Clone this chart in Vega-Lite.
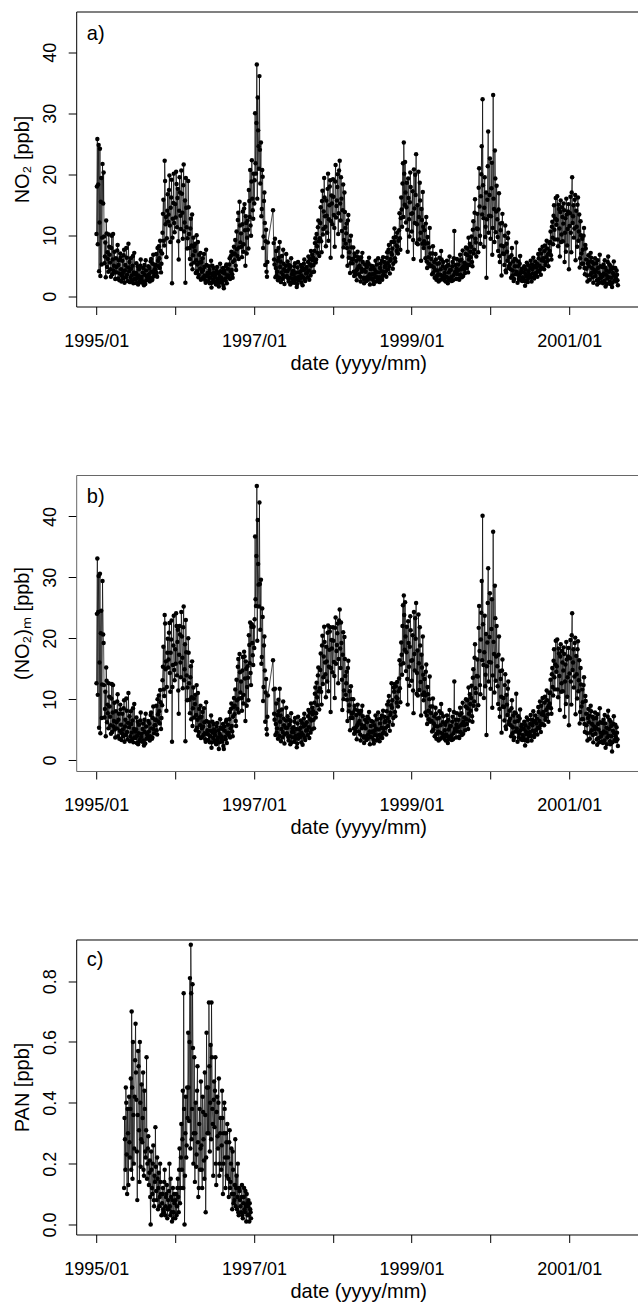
{
"$schema": "https://vega.github.io/schema/vega-lite/v6.json",
"autosize": {"type": "pad"},
"padding": {"left": 12.2, "top": 11.5, "right": 0, "bottom": 0},
"background": "white",
"spacing": 168.5,
"bounds": "flush",
"config": {
  "font": "Liberation Sans",
  "view": {"stroke": null},
  "axis": {"labelFont": "Liberation Sans", "titleFont": "Liberation Sans", "labelFontSize": 18, "titleFontSize": 20, "titleFontWeight": "normal", "labelColor": "black", "titleColor": "black", "tickColor": "black", "domainColor": "black", "tickSize": 8, "grid": false, "labelOverlap": false, "labelFlush": false}
},
"datasets": {
"no2": [
{"t":"1995-01-02","a":10.2,"b":12.6},{"t":"1995-01-06","a":25.8,"b":33.1},{"t":"1995-01-10","a":18.3,"b":24.3},{"t":"1995-01-14","a":4.1,"b":5.3},{"t":"1995-01-18","a":24.2,"b":30.6},{"t":"1995-01-22","a":15.5,"b":20.8},{"t":"1995-01-26","a":5.2,"b":6.9},{"t":"1995-01-30","a":21.7,"b":29.4},
{"t":"1995-02-02","a":15.2,"b":20.6},{"t":"1995-02-06","a":9.8,"b":12.3},{"t":"1995-02-10","a":6.5,"b":8.4},{"t":"1995-02-14","a":3.1,"b":3.9},{"t":"1995-02-18","a":10.3,"b":13.0},{"t":"1995-02-22","a":7.2,"b":9.1},{"t":"1995-02-26","a":4.0,"b":5.2},
{"t":"1995-03-02","a":8.1,"b":10.4},{"t":"1995-03-06","a":5.5,"b":7.1},{"t":"1995-03-10","a":3.2,"b":4.3},{"t":"1995-03-14","a":9.9,"b":12.5},{"t":"1995-03-18","a":6.0,"b":7.8},{"t":"1995-03-22","a":4.2,"b":5.5},{"t":"1995-03-26","a":7.3,"b":9.4},{"t":"1995-03-30","a":2.8,"b":3.7},
{"t":"1995-04-02","a":6.2,"b":8.0},{"t":"1995-04-06","a":3.9,"b":5.2},{"t":"1995-04-10","a":8.4,"b":10.8},{"t":"1995-04-14","a":5.1,"b":6.6},{"t":"1995-04-18","a":2.6,"b":3.5},{"t":"1995-04-22","a":7.0,"b":9.1},{"t":"1995-04-26","a":4.4,"b":5.8},{"t":"1995-04-30","a":3.3,"b":4.4},
{"t":"1995-05-02","a":5.8,"b":7.6},{"t":"1995-05-06","a":2.9,"b":3.9},{"t":"1995-05-10","a":7.6,"b":9.8},{"t":"1995-05-14","a":4.2,"b":5.5},{"t":"1995-05-18","a":3.1,"b":4.1},{"t":"1995-05-22","a":6.3,"b":8.1},{"t":"1995-05-26","a":2.5,"b":3.4},{"t":"1995-05-30","a":8.6,"b":11.0},
{"t":"1995-06-02","a":4.1,"b":5.4},{"t":"1995-06-06","a":2.3,"b":3.1},{"t":"1995-06-10","a":6.2,"b":8.0},{"t":"1995-06-14","a":3.4,"b":4.5},{"t":"1995-06-18","a":5.0,"b":6.5},{"t":"1995-06-22","a":2.1,"b":2.9},{"t":"1995-06-26","a":7.1,"b":9.2},{"t":"1995-06-30","a":3.6,"b":4.7},
{"t":"1995-07-02","a":2.7,"b":3.6},{"t":"1995-07-06","a":5.4,"b":7.0},{"t":"1995-07-10","a":3.0,"b":4.0},{"t":"1995-07-14","a":1.9,"b":2.6},{"t":"1995-07-18","a":4.4,"b":5.8},{"t":"1995-07-22","a":2.5,"b":3.3},{"t":"1995-07-26","a":6.0,"b":7.8},{"t":"1995-07-30","a":3.2,"b":4.3},
{"t":"1995-08-02","a":2.2,"b":3.0},{"t":"1995-08-06","a":4.6,"b":6.0},{"t":"1995-08-10","a":1.8,"b":2.4},{"t":"1995-08-14","a":3.5,"b":4.6},{"t":"1995-08-18","a":5.9,"b":7.6},{"t":"1995-08-22","a":2.6,"b":3.5},{"t":"1995-08-26","a":3.1,"b":4.1},{"t":"1995-08-30","a":4.9,"b":6.4},
{"t":"1995-09-02","a":3.6,"b":4.7},{"t":"1995-09-06","a":2.4,"b":3.2},{"t":"1995-09-10","a":5.7,"b":7.4},{"t":"1995-09-14","a":4.0,"b":5.2},{"t":"1995-09-18","a":2.8,"b":3.7},{"t":"1995-09-22","a":6.8,"b":8.8},{"t":"1995-09-26","a":3.3,"b":4.4},{"t":"1995-09-30","a":5.1,"b":6.6},
{"t":"1995-10-02","a":4.4,"b":5.7},{"t":"1995-10-06","a":6.9,"b":8.9},{"t":"1995-10-10","a":3.2,"b":4.2},{"t":"1995-10-14","a":5.8,"b":7.5},{"t":"1995-10-18","a":8.2,"b":10.6},{"t":"1995-10-22","a":4.6,"b":6.0},{"t":"1995-10-26","a":7.4,"b":9.5},{"t":"1995-10-30","a":5.3,"b":6.9},
{"t":"1995-11-02","a":7.0,"b":9.0},{"t":"1995-11-06","a":13.5,"b":15.3},{"t":"1995-11-10","a":9.1,"b":11.6},{"t":"1995-11-14","a":22.2,"b":23.8},{"t":"1995-11-18","a":11.8,"b":14.9},{"t":"1995-11-22","a":6.4,"b":8.1},{"t":"1995-11-26","a":14.0,"b":17.6},{"t":"1995-11-30","a":12.2,"b":15.2},
{"t":"1995-12-02","a":13.4,"b":16.5},{"t":"1995-12-06","a":19.8,"b":22.5},{"t":"1995-12-10","a":8.9,"b":11.2},{"t":"1995-12-14","a":16.2,"b":19.8},{"t":"1995-12-18","a":2.1,"b":3.0},{"t":"1995-12-22","a":12.7,"b":15.6},{"t":"1995-12-26","a":20.1,"b":23.7},{"t":"1995-12-30","a":10.5,"b":13.1},
{"t":"1996-01-02","a":15.1,"b":18.2},{"t":"1996-01-06","a":20.4,"b":24.1},{"t":"1996-01-10","a":11.3,"b":13.9},{"t":"1996-01-14","a":17.6,"b":21.4},{"t":"1996-01-18","a":6.0,"b":7.6},{"t":"1996-01-22","a":19.5,"b":22.0},{"t":"1996-01-26","a":13.2,"b":16.0},{"t":"1996-01-30","a":20.6,"b":24.3},
{"t":"1996-02-02","a":16.8,"b":20.3},{"t":"1996-02-06","a":9.4,"b":11.8},{"t":"1996-02-10","a":21.6,"b":25.2},{"t":"1996-02-14","a":12.1,"b":14.9},{"t":"1996-02-18","a":2.2,"b":3.1},{"t":"1996-02-22","a":14.5,"b":17.7},{"t":"1996-02-26","a":7.8,"b":9.8},
{"t":"1996-03-02","a":18.9,"b":20.0},{"t":"1996-03-06","a":10.2,"b":12.6},{"t":"1996-03-10","a":6.1,"b":7.7},{"t":"1996-03-14","a":12.7,"b":15.4},{"t":"1996-03-18","a":8.3,"b":10.3},{"t":"1996-03-22","a":4.4,"b":5.6},{"t":"1996-03-26","a":9.6,"b":11.9},{"t":"1996-03-30","a":5.5,"b":7.0},
{"t":"1996-04-02","a":7.4,"b":9.2},{"t":"1996-04-06","a":3.8,"b":4.9},{"t":"1996-04-10","a":10.0,"b":12.3},{"t":"1996-04-14","a":5.2,"b":6.6},{"t":"1996-04-18","a":3.1,"b":4.0},{"t":"1996-04-22","a":6.8,"b":8.4},{"t":"1996-04-26","a":4.5,"b":5.7},{"t":"1996-04-30","a":2.7,"b":3.6},
{"t":"1996-05-02","a":5.6,"b":7.1},{"t":"1996-05-06","a":2.9,"b":3.8},{"t":"1996-05-10","a":4.3,"b":5.5},{"t":"1996-05-14","a":6.9,"b":8.5},{"t":"1996-05-18","a":3.4,"b":4.4},{"t":"1996-05-22","a":2.2,"b":3.0},{"t":"1996-05-26","a":5.1,"b":6.4},{"t":"1996-05-30","a":3.8,"b":4.9},
{"t":"1996-06-02","a":3.2,"b":4.2},{"t":"1996-06-06","a":4.9,"b":6.2},{"t":"1996-06-10","a":2.1,"b":2.9},{"t":"1996-06-14","a":3.7,"b":4.8},{"t":"1996-06-18","a":1.4,"b":2.0},{"t":"1996-06-22","a":5.0,"b":6.3},{"t":"1996-06-26","a":2.7,"b":3.6},{"t":"1996-06-30","a":3.9,"b":5.0},
{"t":"1996-07-02","a":2.4,"b":3.2},{"t":"1996-07-06","a":3.6,"b":4.7},{"t":"1996-07-10","a":1.9,"b":2.6},{"t":"1996-07-14","a":4.8,"b":6.1},{"t":"1996-07-18","a":2.8,"b":3.7},{"t":"1996-07-22","a":1.6,"b":1.8},{"t":"1996-07-26","a":3.3,"b":4.3},{"t":"1996-07-30","a":4.1,"b":5.3},
{"t":"1996-08-02","a":3.0,"b":3.9},{"t":"1996-08-06","a":2.2,"b":3.0},{"t":"1996-08-10","a":4.6,"b":5.9},{"t":"1996-08-14","a":1.3,"b":1.8},{"t":"1996-08-18","a":3.7,"b":4.8},{"t":"1996-08-22","a":2.6,"b":3.4},{"t":"1996-08-26","a":5.2,"b":6.6},{"t":"1996-08-30","a":3.4,"b":4.4},
{"t":"1996-09-02","a":4.5,"b":5.8},{"t":"1996-09-06","a":3.1,"b":4.1},{"t":"1996-09-10","a":6.2,"b":7.9},{"t":"1996-09-14","a":4.0,"b":5.2},{"t":"1996-09-18","a":7.3,"b":9.3},{"t":"1996-09-22","a":3.6,"b":4.7},{"t":"1996-09-26","a":5.6,"b":7.1},{"t":"1996-09-30","a":8.1,"b":10.2},
{"t":"1996-10-02","a":5.9,"b":7.5},{"t":"1996-10-06","a":9.2,"b":11.6},{"t":"1996-10-10","a":4.3,"b":5.6},{"t":"1996-10-14","a":7.7,"b":9.8},{"t":"1996-10-18","a":12.5,"b":15.3},{"t":"1996-10-22","a":6.1,"b":7.8},{"t":"1996-10-26","a":15.5,"b":17.4},{"t":"1996-10-30","a":8.8,"b":11.1},
{"t":"1996-11-02","a":10.3,"b":12.9},{"t":"1996-11-06","a":6.4,"b":8.1},{"t":"1996-11-10","a":13.9,"b":16.9},{"t":"1996-11-14","a":8.5,"b":10.7},{"t":"1996-11-18","a":15.1,"b":17.0},{"t":"1996-11-22","a":5.0,"b":6.4},{"t":"1996-11-26","a":12.0,"b":15.0},{"t":"1996-11-30","a":9.6,"b":12.0},
{"t":"1996-12-02","a":12.4,"b":15.4},{"t":"1996-12-06","a":7.8,"b":9.8},{"t":"1996-12-10","a":15.6,"b":18.9},{"t":"1996-12-14","a":20.7,"b":22.6},{"t":"1996-12-18","a":9.9,"b":12.3},{"t":"1996-12-22","a":22.3,"b":22.3},{"t":"1996-12-26","a":14.1,"b":17.2},{"t":"1996-12-30","a":20.1,"b":21.9},
{"t":"1997-01-02","a":15.2,"b":18.4},{"t":"1997-01-06","a":30.0,"b":36.7},{"t":"1997-01-10","a":20.1,"b":25.3},{"t":"1997-01-14","a":38.0,"b":45.0},{"t":"1997-01-18","a":32.6,"b":39.4},{"t":"1997-01-22","a":24.6,"b":28.8},{"t":"1997-01-26","a":36.1,"b":42.3},{"t":"1997-01-30","a":18.5,"b":21.4},
{"t":"1997-02-02","a":25.2,"b":29.6},{"t":"1997-02-06","a":14.3,"b":16.9},{"t":"1997-02-10","a":19.6,"b":23.5},{"t":"1997-02-14","a":9.8,"b":12.0},{"t":"1997-02-18","a":17.0,"b":20.3},{"t":"1997-02-22","a":5.1,"b":6.3},{"t":"1997-02-26","a":10.9,"b":13.3},
{"t":"1997-03-02","a":3.2,"b":4.2},{"t":"1997-03-06","a":8.8,"b":10.6},{"t":"1997-03-30","a":14.1,"b":16.4},
{"t":"1997-04-02","a":8.7,"b":11.6},{"t":"1997-04-06","a":5.2,"b":6.6},{"t":"1997-04-10","a":3.1,"b":4.1},{"t":"1997-04-14","a":7.4,"b":9.3},{"t":"1997-04-18","a":4.0,"b":5.2},{"t":"1997-04-22","a":2.6,"b":3.5},{"t":"1997-04-26","a":6.3,"b":8.0},{"t":"1997-04-30","a":8.9,"b":11.7},
{"t":"1997-05-02","a":4.8,"b":6.3},{"t":"1997-05-06","a":2.3,"b":3.1},{"t":"1997-05-10","a":6.6,"b":8.3},{"t":"1997-05-14","a":3.5,"b":4.6},{"t":"1997-05-18","a":5.3,"b":6.8},{"t":"1997-05-22","a":2.0,"b":2.7},{"t":"1997-05-26","a":4.1,"b":5.3},{"t":"1997-05-30","a":6.9,"b":8.6},
{"t":"1997-06-02","a":3.3,"b":4.4},{"t":"1997-06-06","a":5.7,"b":7.2},{"t":"1997-06-10","a":2.4,"b":3.2},{"t":"1997-06-14","a":4.5,"b":5.8},{"t":"1997-06-18","a":1.9,"b":2.6},{"t":"1997-06-22","a":6.2,"b":7.7},{"t":"1997-06-26","a":3.6,"b":4.6},{"t":"1997-06-30","a":2.8,"b":3.7},
{"t":"1997-07-02","a":4.2,"b":5.4},{"t":"1997-07-06","a":2.2,"b":3.0},{"t":"1997-07-10","a":5.4,"b":6.9},{"t":"1997-07-14","a":3.0,"b":4.0},{"t":"1997-07-18","a":1.5,"b":2.1},{"t":"1997-07-22","a":4.7,"b":6.0},{"t":"1997-07-26","a":2.6,"b":3.5},{"t":"1997-07-30","a":3.9,"b":5.0},
{"t":"1997-08-02","a":2.9,"b":3.8},{"t":"1997-08-06","a":5.1,"b":6.5},{"t":"1997-08-10","a":3.4,"b":4.5},{"t":"1997-08-14","a":1.8,"b":2.5},{"t":"1997-08-18","a":4.3,"b":5.5},{"t":"1997-08-22","a":6.0,"b":7.6},{"t":"1997-08-26","a":2.5,"b":3.3},{"t":"1997-08-30","a":3.7,"b":4.8},
{"t":"1997-09-02","a":4.8,"b":6.2},{"t":"1997-09-06","a":3.1,"b":4.1},{"t":"1997-09-10","a":6.5,"b":8.2},{"t":"1997-09-14","a":2.7,"b":3.6},{"t":"1997-09-18","a":5.2,"b":6.7},{"t":"1997-09-22","a":7.4,"b":9.3},{"t":"1997-09-26","a":3.9,"b":5.0},{"t":"1997-09-30","a":5.9,"b":7.5},
{"t":"1997-10-02","a":6.3,"b":8.0},{"t":"1997-10-06","a":4.0,"b":5.2},{"t":"1997-10-10","a":8.7,"b":10.9},{"t":"1997-10-14","a":5.5,"b":7.0},{"t":"1997-10-18","a":10.2,"b":12.7},{"t":"1997-10-22","a":7.1,"b":9.0},{"t":"1997-10-26","a":12.4,"b":15.2},{"t":"1997-10-30","a":6.6,"b":8.3},
{"t":"1997-11-02","a":9.5,"b":11.8},{"t":"1997-11-06","a":14.6,"b":17.5},{"t":"1997-11-10","a":7.2,"b":9.1},{"t":"1997-11-14","a":17.3,"b":20.4},{"t":"1997-11-18","a":11.0,"b":13.6},{"t":"1997-11-22","a":19.4,"b":21.9},{"t":"1997-11-26","a":13.1,"b":16.0},{"t":"1997-11-30","a":8.2,"b":10.3},
{"t":"1997-12-02","a":15.7,"b":18.6},{"t":"1997-12-06","a":10.4,"b":12.9},{"t":"1997-12-10","a":20.1,"b":22.1},{"t":"1997-12-14","a":12.6,"b":15.3},{"t":"1997-12-18","a":18.0,"b":21.1},{"t":"1997-12-22","a":6.3,"b":7.9},{"t":"1997-12-26","a":16.5,"b":19.7},{"t":"1997-12-30","a":11.8,"b":14.4},
{"t":"1998-01-02","a":19.2,"b":21.8},{"t":"1998-01-06","a":13.3,"b":16.1},{"t":"1998-01-10","a":8.1,"b":10.2},{"t":"1998-01-14","a":21.5,"b":23.4},{"t":"1998-01-18","a":14.8,"b":17.9},{"t":"1998-01-22","a":17.9,"b":20.8},{"t":"1998-01-26","a":10.2,"b":12.6},{"t":"1998-01-30","a":20.6,"b":22.9},
{"t":"1998-02-02","a":22.2,"b":24.7},{"t":"1998-02-06","a":12.4,"b":15.1},{"t":"1998-02-10","a":16.0,"b":19.2},{"t":"1998-02-14","a":6.5,"b":8.2},{"t":"1998-02-18","a":18.3,"b":21.0},{"t":"1998-02-22","a":9.2,"b":11.4},{"t":"1998-02-26","a":13.8,"b":16.6},
{"t":"1998-03-02","a":8.6,"b":10.7},{"t":"1998-03-06","a":11.9,"b":14.5},{"t":"1998-03-10","a":5.0,"b":6.4},{"t":"1998-03-14","a":13.3,"b":16.3},{"t":"1998-03-18","a":7.2,"b":9.0},{"t":"1998-03-22","a":3.8,"b":4.9},{"t":"1998-03-26","a":9.9,"b":12.1},{"t":"1998-03-30","a":6.1,"b":7.6},
{"t":"1998-04-02","a":5.4,"b":6.9},{"t":"1998-04-06","a":8.0,"b":10.0},{"t":"1998-04-10","a":3.3,"b":4.3},{"t":"1998-04-14","a":6.6,"b":8.3},{"t":"1998-04-18","a":4.1,"b":5.3},{"t":"1998-04-22","a":2.6,"b":3.4},{"t":"1998-04-26","a":7.3,"b":9.1},{"t":"1998-04-30","a":4.8,"b":6.1},
{"t":"1998-05-02","a":3.6,"b":4.7},{"t":"1998-05-06","a":6.0,"b":7.6},{"t":"1998-05-10","a":2.4,"b":3.2},{"t":"1998-05-14","a":4.5,"b":5.8},{"t":"1998-05-18","a":7.1,"b":8.9},{"t":"1998-05-22","a":3.0,"b":3.9},{"t":"1998-05-26","a":2.1,"b":2.8},{"t":"1998-05-30","a":5.2,"b":6.6},
{"t":"1998-06-02","a":4.0,"b":5.2},{"t":"1998-06-06","a":2.5,"b":3.3},{"t":"1998-06-10","a":5.6,"b":7.1},{"t":"1998-06-14","a":3.2,"b":4.2},{"t":"1998-06-18","a":6.3,"b":7.9},{"t":"1998-06-22","a":1.9,"b":2.6},{"t":"1998-06-26","a":4.4,"b":5.6},{"t":"1998-06-30","a":3.5,"b":4.5},
{"t":"1998-07-02","a":2.8,"b":3.7},{"t":"1998-07-06","a":4.9,"b":6.3},{"t":"1998-07-10","a":2.0,"b":2.7},{"t":"1998-07-14","a":3.7,"b":4.8},{"t":"1998-07-18","a":5.8,"b":7.3},{"t":"1998-07-22","a":2.4,"b":3.2},{"t":"1998-07-26","a":3.1,"b":4.0},{"t":"1998-07-30","a":6.2,"b":7.8},
{"t":"1998-08-02","a":3.9,"b":5.0},{"t":"1998-08-06","a":2.3,"b":3.1},{"t":"1998-08-10","a":5.3,"b":6.8},{"t":"1998-08-14","a":4.1,"b":5.3},{"t":"1998-08-18","a":2.7,"b":3.6},{"t":"1998-08-22","a":6.4,"b":8.1},{"t":"1998-08-26","a":3.5,"b":4.6},{"t":"1998-08-30","a":4.8,"b":6.2},
{"t":"1998-09-02","a":5.0,"b":6.4},{"t":"1998-09-06","a":3.2,"b":4.2},{"t":"1998-09-10","a":7.2,"b":9.1},{"t":"1998-09-14","a":4.4,"b":5.6},{"t":"1998-09-18","a":8.4,"b":10.5},{"t":"1998-09-22","a":3.7,"b":4.8},{"t":"1998-09-26","a":6.1,"b":7.8},{"t":"1998-09-30","a":8.9,"b":12.6},
{"t":"1998-10-02","a":6.8,"b":8.6},{"t":"1998-10-06","a":4.5,"b":5.8},{"t":"1998-10-10","a":9.6,"b":11.9},{"t":"1998-10-14","a":11.1,"b":12.5},{"t":"1998-10-18","a":5.7,"b":7.2},{"t":"1998-10-22","a":8.3,"b":10.3},{"t":"1998-10-26","a":10.4,"b":12.8},{"t":"1998-10-30","a":7.0,"b":8.8},
{"t":"1998-11-02","a":9.1,"b":11.3},{"t":"1998-11-06","a":13.6,"b":16.4},{"t":"1998-11-10","a":7.6,"b":9.5},{"t":"1998-11-14","a":16.2,"b":19.3},{"t":"1998-11-18","a":11.4,"b":14.0},{"t":"1998-11-22","a":21.8,"b":25.4},{"t":"1998-11-26","a":25.2,"b":27.0},{"t":"1998-11-30","a":15.0,"b":18.1},
{"t":"1998-12-02","a":22.0,"b":25.9},{"t":"1998-12-06","a":12.1,"b":14.6},{"t":"1998-12-10","a":18.6,"b":21.9},{"t":"1998-12-14","a":7.3,"b":9.1},{"t":"1998-12-18","a":16.1,"b":19.2},{"t":"1998-12-22","a":9.8,"b":12.2},{"t":"1998-12-26","a":20.3,"b":23.6},{"t":"1998-12-30","a":13.5,"b":16.3},
{"t":"1999-01-02","a":10.6,"b":13.0},{"t":"1999-01-06","a":17.2,"b":20.5},{"t":"1999-01-10","a":6.1,"b":7.7},{"t":"1999-01-14","a":14.4,"b":17.4},{"t":"1999-01-18","a":19.9,"b":23.3},{"t":"1999-01-22","a":23.3,"b":25.8},{"t":"1999-01-26","a":11.8,"b":14.3},{"t":"1999-01-30","a":8.5,"b":10.6},
{"t":"1999-02-02","a":20.4,"b":23.9},{"t":"1999-02-06","a":9.3,"b":11.5},{"t":"1999-02-10","a":15.7,"b":18.8},{"t":"1999-02-14","a":5.8,"b":7.3},{"t":"1999-02-18","a":12.5,"b":15.2},{"t":"1999-02-22","a":17.1,"b":20.3},{"t":"1999-02-26","a":7.9,"b":9.8},
{"t":"1999-03-02","a":10.8,"b":13.3},{"t":"1999-03-06","a":6.2,"b":7.8},{"t":"1999-03-10","a":13.0,"b":15.7},{"t":"1999-03-14","a":4.6,"b":5.9},{"t":"1999-03-18","a":8.7,"b":10.8},{"t":"1999-03-22","a":5.3,"b":6.7},{"t":"1999-03-26","a":11.2,"b":13.7},{"t":"1999-03-30","a":7.0,"b":8.8},
{"t":"1999-04-02","a":6.1,"b":7.7},{"t":"1999-04-06","a":3.6,"b":4.7},{"t":"1999-04-10","a":8.2,"b":10.1},{"t":"1999-04-14","a":4.7,"b":6.0},{"t":"1999-04-18","a":3.0,"b":3.9},{"t":"1999-04-22","a":6.9,"b":8.6},{"t":"1999-04-26","a":2.7,"b":3.5},{"t":"1999-04-30","a":5.3,"b":6.8},
{"t":"1999-05-02","a":4.2,"b":5.5},{"t":"1999-05-06","a":2.4,"b":3.2},{"t":"1999-05-10","a":6.3,"b":8.0},{"t":"1999-05-14","a":3.5,"b":4.5},{"t":"1999-05-18","a":7.4,"b":9.2},{"t":"1999-05-22","a":2.8,"b":3.7},{"t":"1999-05-26","a":4.9,"b":6.2},{"t":"1999-05-30","a":3.1,"b":4.0},
{"t":"1999-06-02","a":2.6,"b":3.5},{"t":"1999-06-06","a":4.5,"b":5.8},{"t":"1999-06-10","a":3.2,"b":4.2},{"t":"1999-06-14","a":5.8,"b":7.3},{"t":"1999-06-18","a":2.1,"b":2.8},{"t":"1999-06-22","a":3.9,"b":5.0},{"t":"1999-06-26","a":6.5,"b":8.2},{"t":"1999-06-30","a":2.9,"b":3.8},
{"t":"1999-07-02","a":4.3,"b":5.6},{"t":"1999-07-06","a":2.5,"b":3.3},{"t":"1999-07-10","a":5.6,"b":7.1},{"t":"1999-07-14","a":3.4,"b":4.4},{"t":"1999-07-18","a":10.7,"b":12.9},{"t":"1999-07-22","a":4.0,"b":5.2},{"t":"1999-07-26","a":2.8,"b":3.7},{"t":"1999-07-30","a":6.1,"b":7.7},
{"t":"1999-08-02","a":3.6,"b":4.7},{"t":"1999-08-06","a":5.2,"b":6.6},{"t":"1999-08-10","a":2.7,"b":3.6},{"t":"1999-08-14","a":6.8,"b":8.6},{"t":"1999-08-18","a":4.4,"b":5.7},{"t":"1999-08-22","a":3.1,"b":4.1},{"t":"1999-08-26","a":7.5,"b":9.4},{"t":"1999-08-30","a":4.9,"b":6.3},
{"t":"1999-09-02","a":5.5,"b":7.0},{"t":"1999-09-06","a":3.8,"b":4.9},{"t":"1999-09-10","a":8.0,"b":10.0},{"t":"1999-09-14","a":4.6,"b":5.9},{"t":"1999-09-18","a":6.7,"b":8.5},{"t":"1999-09-22","a":9.6,"b":11.9},{"t":"1999-09-26","a":5.1,"b":6.5},{"t":"1999-09-30","a":7.3,"b":9.2},
{"t":"1999-10-02","a":6.4,"b":8.1},{"t":"1999-10-06","a":9.8,"b":12.2},{"t":"1999-10-10","a":4.9,"b":6.3},{"t":"1999-10-14","a":12.3,"b":14.9},{"t":"1999-10-18","a":7.6,"b":9.6},{"t":"1999-10-22","a":15.9,"b":19.0},{"t":"1999-10-26","a":8.8,"b":11.0},{"t":"1999-10-30","a":11.1,"b":13.8},
{"t":"1999-11-02","a":13.5,"b":16.5},{"t":"1999-11-06","a":7.2,"b":9.0},{"t":"1999-11-10","a":21.0,"b":25.3},{"t":"1999-11-14","a":9.9,"b":12.3},{"t":"1999-11-18","a":16.4,"b":19.8},{"t":"1999-11-22","a":24.6,"b":29.4},{"t":"1999-11-26","a":32.3,"b":40.1},{"t":"1999-11-30","a":12.8,"b":15.6},
{"t":"1999-12-02","a":8.1,"b":10.2},{"t":"1999-12-06","a":19.5,"b":23.7},{"t":"1999-12-10","a":11.4,"b":14.0},{"t":"1999-12-14","a":3.0,"b":4.1},{"t":"1999-12-18","a":15.8,"b":19.3},{"t":"1999-12-22","a":27.0,"b":31.5},{"t":"1999-12-26","a":13.2,"b":16.1},{"t":"1999-12-30","a":22.6,"b":27.4},
{"t":"2000-01-02","a":9.4,"b":11.7},{"t":"2000-01-06","a":17.7,"b":21.5},{"t":"2000-01-10","a":6.8,"b":8.6},{"t":"2000-01-14","a":33.0,"b":37.5},{"t":"2000-01-18","a":14.3,"b":17.4},{"t":"2000-01-22","a":23.9,"b":28.6},{"t":"2000-01-26","a":10.5,"b":13.0},{"t":"2000-01-30","a":18.1,"b":22.0},
{"t":"2000-02-02","a":12.6,"b":15.4},{"t":"2000-02-06","a":7.4,"b":9.2},{"t":"2000-02-10","a":16.9,"b":20.3},{"t":"2000-02-14","a":5.6,"b":7.1},{"t":"2000-02-18","a":10.8,"b":13.3},{"t":"2000-02-22","a":3.4,"b":4.5},{"t":"2000-02-26","a":13.5,"b":16.5},
{"t":"2000-03-02","a":8.2,"b":10.2},{"t":"2000-03-06","a":5.1,"b":6.5},{"t":"2000-03-10","a":11.6,"b":14.1},{"t":"2000-03-14","a":3.9,"b":5.1},{"t":"2000-03-18","a":7.3,"b":9.1},{"t":"2000-03-22","a":9.5,"b":11.7},{"t":"2000-03-26","a":4.6,"b":5.9},{"t":"2000-03-30","a":6.4,"b":8.1},
{"t":"2000-04-02","a":5.3,"b":6.8},{"t":"2000-04-06","a":3.0,"b":3.9},{"t":"2000-04-10","a":7.9,"b":9.8},{"t":"2000-04-14","a":4.2,"b":5.4},{"t":"2000-04-18","a":2.5,"b":3.3},{"t":"2000-04-22","a":6.1,"b":7.8},{"t":"2000-04-26","a":3.6,"b":4.7},{"t":"2000-04-30","a":8.8,"b":10.9},
{"t":"2000-05-02","a":4.0,"b":5.2},{"t":"2000-05-06","a":2.2,"b":3.0},{"t":"2000-05-10","a":5.7,"b":7.2},{"t":"2000-05-14","a":3.3,"b":4.3},{"t":"2000-05-18","a":6.6,"b":8.3},{"t":"2000-05-22","a":2.6,"b":3.4},{"t":"2000-05-26","a":4.5,"b":5.8},{"t":"2000-05-30","a":3.1,"b":4.1},
{"t":"2000-06-02","a":2.8,"b":3.7},{"t":"2000-06-06","a":4.9,"b":6.3},{"t":"2000-06-10","a":1.7,"b":2.4},{"t":"2000-06-14","a":3.6,"b":4.7},{"t":"2000-06-18","a":5.5,"b":7.0},{"t":"2000-06-22","a":2.3,"b":3.1},{"t":"2000-06-26","a":4.1,"b":5.3},{"t":"2000-06-30","a":3.0,"b":3.9},
{"t":"2000-07-02","a":3.5,"b":4.6},{"t":"2000-07-06","a":5.8,"b":7.4},{"t":"2000-07-10","a":2.4,"b":3.2},{"t":"2000-07-14","a":4.4,"b":5.7},{"t":"2000-07-18","a":6.3,"b":8.0},{"t":"2000-07-22","a":2.9,"b":3.8},{"t":"2000-07-26","a":5.0,"b":6.4},{"t":"2000-07-30","a":3.8,"b":4.9},
{"t":"2000-08-02","a":4.7,"b":6.0},{"t":"2000-08-06","a":3.2,"b":4.2},{"t":"2000-08-10","a":6.9,"b":8.7},{"t":"2000-08-14","a":4.0,"b":5.2},{"t":"2000-08-18","a":7.6,"b":9.6},{"t":"2000-08-22","a":3.5,"b":4.6},{"t":"2000-08-26","a":5.9,"b":7.5},{"t":"2000-08-30","a":8.1,"b":10.2},
{"t":"2000-09-02","a":6.2,"b":7.9},{"t":"2000-09-06","a":4.4,"b":5.7},{"t":"2000-09-10","a":8.3,"b":10.4},{"t":"2000-09-14","a":5.5,"b":7.0},{"t":"2000-09-18","a":9.1,"b":11.4},{"t":"2000-09-22","a":6.8,"b":8.6},{"t":"2000-09-26","a":4.9,"b":6.3},{"t":"2000-09-30","a":8.7,"b":11.0},
{"t":"2000-10-02","a":7.4,"b":9.3},{"t":"2000-10-06","a":10.6,"b":13.2},{"t":"2000-10-10","a":6.0,"b":7.6},{"t":"2000-10-14","a":12.2,"b":15.1},{"t":"2000-10-18","a":8.5,"b":10.6},{"t":"2000-10-22","a":14.9,"b":18.2},{"t":"2000-10-26","a":9.3,"b":11.6},{"t":"2000-10-30","a":16.1,"b":19.6},
{"t":"2000-11-02","a":11.7,"b":14.5},{"t":"2000-11-06","a":16.4,"b":19.8},{"t":"2000-11-10","a":8.2,"b":10.3},{"t":"2000-11-14","a":14.3,"b":17.5},{"t":"2000-11-18","a":6.5,"b":8.2},{"t":"2000-11-22","a":15.7,"b":19.0},{"t":"2000-11-26","a":10.1,"b":12.6},{"t":"2000-11-30","a":13.0,"b":16.0},
{"t":"2000-12-02","a":9.0,"b":11.3},{"t":"2000-12-06","a":15.2,"b":18.5},{"t":"2000-12-10","a":5.6,"b":7.1},{"t":"2000-12-14","a":12.8,"b":15.7},{"t":"2000-12-18","a":16.0,"b":19.4},{"t":"2000-12-22","a":8.3,"b":10.4},{"t":"2000-12-26","a":13.9,"b":17.0},{"t":"2000-12-30","a":4.4,"b":5.7},
{"t":"2001-01-02","a":11.5,"b":14.2},{"t":"2001-01-06","a":16.3,"b":19.7},{"t":"2001-01-10","a":7.2,"b":9.1},{"t":"2001-01-14","a":19.5,"b":24.1},{"t":"2001-01-18","a":13.1,"b":16.0},{"t":"2001-01-22","a":9.6,"b":11.9},{"t":"2001-01-26","a":15.8,"b":19.2},{"t":"2001-01-30","a":5.9,"b":7.5},
{"t":"2001-02-02","a":14.0,"b":17.1},{"t":"2001-02-06","a":8.1,"b":10.1},{"t":"2001-02-10","a":16.2,"b":19.5},{"t":"2001-02-14","a":10.6,"b":13.1},{"t":"2001-02-18","a":4.7,"b":6.0},{"t":"2001-02-22","a":12.3,"b":15.1},{"t":"2001-02-26","a":7.0,"b":8.8},
{"t":"2001-03-02","a":9.4,"b":11.6},{"t":"2001-03-06","a":5.3,"b":6.7},{"t":"2001-03-10","a":11.2,"b":13.6},{"t":"2001-03-14","a":3.6,"b":4.6},{"t":"2001-03-18","a":7.8,"b":9.7},{"t":"2001-03-22","a":4.5,"b":5.7},{"t":"2001-03-26","a":2.4,"b":3.2},{"t":"2001-03-30","a":6.7,"b":8.4},
{"t":"2001-04-02","a":4.9,"b":6.2},{"t":"2001-04-06","a":2.7,"b":3.5},{"t":"2001-04-10","a":7.1,"b":8.9},{"t":"2001-04-14","a":3.8,"b":4.9},{"t":"2001-04-18","a":5.6,"b":7.1},{"t":"2001-04-22","a":2.2,"b":2.9},{"t":"2001-04-26","a":4.3,"b":5.5},{"t":"2001-04-30","a":6.2,"b":7.8},
{"t":"2001-05-02","a":3.3,"b":4.3},{"t":"2001-05-06","a":5.4,"b":6.9},{"t":"2001-05-10","a":1.9,"b":2.5},{"t":"2001-05-14","a":4.6,"b":5.9},{"t":"2001-05-18","a":2.8,"b":3.6},{"t":"2001-05-22","a":6.8,"b":8.5},{"t":"2001-05-26","a":3.5,"b":4.5},{"t":"2001-05-30","a":2.3,"b":3.0},
{"t":"2001-06-02","a":4.8,"b":6.1},{"t":"2001-06-06","a":2.1,"b":2.8},{"t":"2001-06-10","a":3.7,"b":4.7},{"t":"2001-06-14","a":5.9,"b":7.4},{"t":"2001-06-18","a":1.6,"b":2.0},{"t":"2001-06-22","a":4.2,"b":5.3},{"t":"2001-06-26","a":2.9,"b":3.7},{"t":"2001-06-30","a":6.5,"b":8.1},
{"t":"2001-07-02","a":3.1,"b":4.0},{"t":"2001-07-06","a":5.2,"b":6.6},{"t":"2001-07-10","a":2.0,"b":2.6},{"t":"2001-07-14","a":4.4,"b":5.6},{"t":"2001-07-18","a":1.5,"b":1.4},{"t":"2001-07-22","a":3.8,"b":4.8},{"t":"2001-07-26","a":5.7,"b":7.2},{"t":"2001-07-30","a":2.6,"b":3.3},
{"t":"2001-08-02","a":4.6,"b":5.8},{"t":"2001-08-06","a":2.4,"b":3.1},{"t":"2001-08-10","a":3.5,"b":4.5},{"t":"2001-08-14","a":1.8,"b":2.3},
{"t":"1995-01-04","a":18.0,"b":24.0},{"t":"1995-01-08","a":8.5,"b":10.7},{"t":"1995-01-12","a":24.8,"b":30.2},{"t":"1995-01-16","a":12.1,"b":16.0},{"t":"1995-01-20","a":3.3,"b":4.4},{"t":"1995-01-24","a":19.4,"b":24.5},{"t":"1995-01-28","a":9.6,"b":12.4},
{"t":"1995-02-04","a":20.3,"b":19.2},{"t":"1995-02-08","a":5.4,"b":7.0},{"t":"1995-02-12","a":8.8,"b":11.2},{"t":"1995-02-16","a":12.4,"b":15.2},{"t":"1995-02-20","a":4.8,"b":6.2},{"t":"1995-02-24","a":6.1,"b":7.7},{"t":"1995-02-28","a":10.1,"b":12.6},
{"t":"1995-03-04","a":6.8,"b":8.8},{"t":"1995-03-08","a":4.4,"b":5.7},{"t":"1995-03-12","a":7.9,"b":10.1},{"t":"1995-03-16","a":3.6,"b":4.6},{"t":"1995-03-20","a":10.2,"b":12.3},{"t":"1995-03-24","a":5.0,"b":6.4},{"t":"1995-03-28","a":3.9,"b":5.0},
{"t":"1995-04-04","a":4.8,"b":6.2},{"t":"1995-04-08","a":7.5,"b":9.6},{"t":"1995-04-12","a":2.9,"b":3.9},{"t":"1995-04-16","a":5.9,"b":7.6},{"t":"1995-04-20","a":3.7,"b":4.8},{"t":"1995-04-24","a":6.4,"b":8.3},{"t":"1995-04-28","a":2.4,"b":3.3},
{"t":"1995-05-04","a":3.8,"b":5.0},{"t":"1995-05-08","a":6.7,"b":8.5},{"t":"1995-05-12","a":2.2,"b":3.0},{"t":"1995-05-16","a":5.1,"b":6.6},{"t":"1995-05-20","a":7.9,"b":10.1},{"t":"1995-05-24","a":3.5,"b":4.6},{"t":"1995-05-28","a":4.7,"b":6.1},
{"t":"1995-06-04","a":5.6,"b":7.2},{"t":"1995-06-08","a":3.0,"b":3.9},{"t":"1995-06-12","a":4.5,"b":5.9},{"t":"1995-06-16","a":2.6,"b":3.4},{"t":"1995-06-20","a":6.6,"b":8.5},{"t":"1995-06-24","a":3.9,"b":5.1},{"t":"1995-06-28","a":2.8,"b":3.7},
{"t":"1995-07-04","a":3.8,"b":5.0},{"t":"1995-07-08","a":2.1,"b":2.8},{"t":"1995-07-12","a":4.9,"b":6.3},{"t":"1995-07-16","a":3.4,"b":4.4},{"t":"1995-07-20","a":2.3,"b":3.1},{"t":"1995-07-24","a":5.0,"b":6.5},{"t":"1995-07-28","a":2.9,"b":3.8},
{"t":"1995-08-04","a":3.9,"b":5.1},{"t":"1995-08-08","a":2.4,"b":3.2},{"t":"1995-08-12","a":5.1,"b":6.6},{"t":"1995-08-16","a":2.0,"b":2.7},{"t":"1995-08-20","a":4.2,"b":5.5},{"t":"1995-08-24","a":3.3,"b":4.3},{"t":"1995-08-28","a":2.7,"b":3.6},
{"t":"1995-09-04","a":4.6,"b":6.0},{"t":"1995-09-08","a":3.0,"b":3.9},{"t":"1995-09-12","a":6.1,"b":7.8},{"t":"1995-09-16","a":2.6,"b":3.5},{"t":"1995-09-20","a":5.3,"b":6.9},{"t":"1995-09-24","a":3.9,"b":5.1},{"t":"1995-09-28","a":4.4,"b":5.7},
{"t":"1995-10-04","a":5.1,"b":6.6},{"t":"1995-10-08","a":3.8,"b":4.9},{"t":"1995-10-12","a":7.9,"b":10.0},{"t":"1995-10-16","a":4.9,"b":6.3},{"t":"1995-10-20","a":6.2,"b":8.0},{"t":"1995-10-24","a":9.1,"b":11.5},{"t":"1995-10-28","a":3.9,"b":5.1},
{"t":"1995-11-04","a":10.4,"b":13.1},{"t":"1995-11-08","a":15.8,"b":18.6},{"t":"1995-11-12","a":8.3,"b":10.5},{"t":"1995-11-16","a":18.9,"b":22.4},{"t":"1995-11-20","a":13.0,"b":16.2},{"t":"1995-11-24","a":9.5,"b":12.0},{"t":"1995-11-28","a":16.7,"b":19.9},
{"t":"1995-12-04","a":17.4,"b":20.9},{"t":"1995-12-08","a":11.6,"b":14.3},{"t":"1995-12-12","a":14.5,"b":17.6},{"t":"1995-12-16","a":19.1,"b":22.9},{"t":"1995-12-20","a":9.6,"b":12.0},{"t":"1995-12-24","a":15.3,"b":18.8},{"t":"1995-12-28","a":12.0,"b":14.8},
{"t":"1996-01-04","a":12.9,"b":15.8},{"t":"1996-01-08","a":18.4,"b":22.0},{"t":"1996-01-12","a":16.1,"b":19.4},{"t":"1996-01-16","a":9.0,"b":11.4},{"t":"1996-01-20","a":14.0,"b":17.3},{"t":"1996-01-24","a":17.0,"b":20.6},{"t":"1996-01-28","a":11.0,"b":13.6},
{"t":"1996-02-04","a":13.7,"b":16.8},{"t":"1996-02-08","a":18.2,"b":21.8},{"t":"1996-02-12","a":10.6,"b":13.1},{"t":"1996-02-16","a":15.7,"b":19.0},{"t":"1996-02-20","a":19.4,"b":23.0},{"t":"1996-02-24","a":11.3,"b":13.9},{"t":"1996-02-28","a":9.5,"b":11.9},
{"t":"1996-03-04","a":14.6,"b":17.6},{"t":"1996-03-08","a":7.9,"b":9.9},{"t":"1996-03-12","a":11.1,"b":13.6},{"t":"1996-03-16","a":5.2,"b":6.7},{"t":"1996-03-20","a":13.4,"b":16.2},{"t":"1996-03-24","a":6.7,"b":8.5},{"t":"1996-03-28","a":8.1,"b":10.1},
{"t":"1996-04-04","a":8.6,"b":10.7},{"t":"1996-04-08","a":5.9,"b":7.4},{"t":"1996-04-12","a":4.1,"b":5.3},{"t":"1996-04-16","a":8.9,"b":11.0},{"t":"1996-04-20","a":3.5,"b":4.6},{"t":"1996-04-24","a":5.5,"b":7.0},{"t":"1996-04-28","a":7.1,"b":8.9},
{"t":"1996-05-04","a":4.0,"b":5.2},{"t":"1996-05-08","a":6.2,"b":7.9},{"t":"1996-05-12","a":3.1,"b":4.1},{"t":"1996-05-16","a":4.8,"b":6.2},{"t":"1996-05-20","a":2.6,"b":3.4},{"t":"1996-05-24","a":7.6,"b":9.5},{"t":"1996-05-28","a":3.3,"b":4.3},
{"t":"1996-06-04","a":2.5,"b":3.3},{"t":"1996-06-08","a":4.3,"b":5.6},{"t":"1996-06-12","a":3.0,"b":3.9},{"t":"1996-06-16","a":5.8,"b":7.3},{"t":"1996-06-20","a":2.2,"b":2.9},{"t":"1996-06-24","a":3.4,"b":4.5},{"t":"1996-06-28","a":4.6,"b":5.9},
{"t":"1996-07-04","a":3.1,"b":4.1},{"t":"1996-07-08","a":2.0,"b":2.7},{"t":"1996-07-12","a":4.2,"b":5.5},{"t":"1996-07-16","a":2.5,"b":3.3},{"t":"1996-07-20","a":3.8,"b":4.9},{"t":"1996-07-24","a":2.2,"b":2.9},{"t":"1996-07-28","a":5.3,"b":6.7},
{"t":"1996-08-04","a":2.6,"b":3.4},{"t":"1996-08-08","a":3.9,"b":5.1},{"t":"1996-08-12","a":1.7,"b":2.3},{"t":"1996-08-16","a":4.2,"b":5.5},{"t":"1996-08-20","a":2.9,"b":3.8},{"t":"1996-08-24","a":4.9,"b":6.3},{"t":"1996-08-28","a":2.1,"b":2.8},
{"t":"1996-09-04","a":3.4,"b":4.5},{"t":"1996-09-08","a":5.2,"b":6.7},{"t":"1996-09-12","a":2.8,"b":3.7},{"t":"1996-09-16","a":6.6,"b":8.4},{"t":"1996-09-20","a":4.3,"b":5.6},{"t":"1996-09-24","a":3.0,"b":3.9},{"t":"1996-09-28","a":6.9,"b":8.7},
{"t":"1996-10-04","a":7.0,"b":8.9},{"t":"1996-10-08","a":5.0,"b":6.4},{"t":"1996-10-12","a":10.6,"b":13.2},{"t":"1996-10-16","a":6.6,"b":8.4},{"t":"1996-10-20","a":13.7,"b":16.6},{"t":"1996-10-24","a":8.0,"b":10.1},{"t":"1996-10-28","a":11.6,"b":14.4},
{"t":"1996-11-04","a":8.1,"b":10.2},{"t":"1996-11-08","a":11.8,"b":14.7},{"t":"1996-11-12","a":7.3,"b":9.3},{"t":"1996-11-16","a":14.4,"b":17.8},{"t":"1996-11-20","a":10.8,"b":13.4},{"t":"1996-11-24","a":13.1,"b":16.2},{"t":"1996-11-28","a":7.0,"b":8.9},
{"t":"1996-12-04","a":10.9,"b":13.5},{"t":"1996-12-08","a":17.4,"b":20.5},{"t":"1996-12-12","a":13.0,"b":15.9},{"t":"1996-12-16","a":11.6,"b":14.3},{"t":"1996-12-20","a":18.8,"b":21.9},{"t":"1996-12-24","a":16.0,"b":19.2},{"t":"1996-12-28","a":12.7,"b":15.6},
{"t":"1997-01-04","a":19.0,"b":23.1},{"t":"1997-01-08","a":21.8,"b":26.4},{"t":"1997-01-12","a":28.4,"b":33.5},{"t":"1997-01-16","a":16.0,"b":19.6},{"t":"1997-01-20","a":27.2,"b":32.2},{"t":"1997-01-24","a":20.9,"b":25.2},{"t":"1997-01-28","a":24.0,"b":28.9},
{"t":"1997-02-04","a":13.1,"b":15.8},{"t":"1997-02-08","a":20.7,"b":24.9},{"t":"1997-02-12","a":7.9,"b":9.7},{"t":"1997-02-16","a":15.6,"b":18.8},{"t":"1997-02-20","a":12.0,"b":14.7},{"t":"1997-02-24","a":9.0,"b":11.1},{"t":"1997-02-28","a":4.0,"b":5.1},
{"t":"1997-03-04","a":5.6,"b":7.1},
{"t":"1997-04-04","a":6.0,"b":7.6},{"t":"1997-04-08","a":9.4,"b":11.7},{"t":"1997-04-12","a":4.6,"b":5.9},{"t":"1997-04-16","a":3.4,"b":4.5},{"t":"1997-04-20","a":5.8,"b":7.4},{"t":"1997-04-24","a":7.9,"b":9.9},{"t":"1997-04-28","a":3.0,"b":4.0},
{"t":"1997-05-04","a":5.7,"b":7.3},{"t":"1997-05-08","a":3.9,"b":5.1},{"t":"1997-05-12","a":2.8,"b":3.7},{"t":"1997-05-16","a":7.6,"b":9.6},{"t":"1997-05-20","a":4.4,"b":5.7},{"t":"1997-05-24","a":3.2,"b":4.2},{"t":"1997-05-28","a":5.0,"b":6.5},
{"t":"1997-06-04","a":4.1,"b":5.3},{"t":"1997-06-08","a":2.9,"b":3.8},{"t":"1997-06-12","a":5.1,"b":6.6},{"t":"1997-06-16","a":3.0,"b":3.9},{"t":"1997-06-20","a":4.9,"b":6.4},{"t":"1997-06-24","a":2.2,"b":2.9},{"t":"1997-06-28","a":4.0,"b":5.2},
{"t":"1997-07-04","a":3.5,"b":4.6},{"t":"1997-07-08","a":4.9,"b":6.3},{"t":"1997-07-12","a":2.7,"b":3.5},{"t":"1997-07-16","a":3.9,"b":5.1},{"t":"1997-07-20","a":2.0,"b":2.7},{"t":"1997-07-24","a":5.6,"b":7.1},{"t":"1997-07-28","a":3.2,"b":4.2},
{"t":"1997-08-04","a":4.1,"b":5.3},{"t":"1997-08-08","a":2.2,"b":2.9},{"t":"1997-08-12","a":4.7,"b":6.1},{"t":"1997-08-16","a":3.1,"b":4.1},{"t":"1997-08-20","a":5.3,"b":6.8},{"t":"1997-08-24","a":2.8,"b":3.7},{"t":"1997-08-28","a":4.5,"b":5.8},
{"t":"1997-09-04","a":3.8,"b":4.9},{"t":"1997-09-08","a":5.6,"b":7.2},{"t":"1997-09-12","a":4.2,"b":5.4},{"t":"1997-09-16","a":6.1,"b":7.8},{"t":"1997-09-20","a":3.4,"b":4.5},{"t":"1997-09-24","a":5.0,"b":6.5},{"t":"1997-09-28","a":6.8,"b":8.6},
{"t":"1997-10-04","a":5.1,"b":6.6},{"t":"1997-10-08","a":7.4,"b":9.4},{"t":"1997-10-12","a":9.5,"b":11.9},{"t":"1997-10-16","a":6.0,"b":7.7},{"t":"1997-10-20","a":8.2,"b":10.3},{"t":"1997-10-24","a":11.3,"b":13.9},{"t":"1997-10-28","a":9.0,"b":11.3},
{"t":"1997-11-04","a":12.0,"b":14.8},{"t":"1997-11-08","a":9.0,"b":11.2},{"t":"1997-11-12","a":15.6,"b":18.8},{"t":"1997-11-16","a":10.1,"b":12.5},{"t":"1997-11-20","a":13.9,"b":17.0},{"t":"1997-11-24","a":16.2,"b":19.4},{"t":"1997-11-28","a":11.4,"b":14.1},
{"t":"1997-12-04","a":13.2,"b":16.2},{"t":"1997-12-08","a":17.6,"b":20.9},{"t":"1997-12-12","a":9.1,"b":11.3},{"t":"1997-12-16","a":14.9,"b":18.1},{"t":"1997-12-20","a":19.0,"b":21.8},{"t":"1997-12-24","a":12.3,"b":15.1},{"t":"1997-12-28","a":15.2,"b":18.3},
{"t":"1998-01-04","a":16.3,"b":19.6},{"t":"1998-01-08","a":11.2,"b":13.8},{"t":"1998-01-12","a":18.8,"b":21.7},{"t":"1998-01-16","a":12.9,"b":15.8},{"t":"1998-01-20","a":15.7,"b":18.9},{"t":"1998-01-24","a":20.0,"b":22.4},{"t":"1998-01-28","a":13.6,"b":16.6},
{"t":"1998-02-04","a":15.2,"b":18.3},{"t":"1998-02-08","a":19.5,"b":22.6},{"t":"1998-02-12","a":10.7,"b":13.2},{"t":"1998-02-16","a":14.1,"b":17.3},{"t":"1998-02-20","a":8.0,"b":10.0},{"t":"1998-02-24","a":17.0,"b":20.2},{"t":"1998-02-28","a":11.2,"b":13.8},
{"t":"1998-03-04","a":10.3,"b":12.6},{"t":"1998-03-08","a":7.9,"b":9.9},{"t":"1998-03-12","a":12.4,"b":15.1},{"t":"1998-03-16","a":6.3,"b":8.0},{"t":"1998-03-20","a":9.1,"b":11.3},{"t":"1998-03-24","a":5.4,"b":6.9},{"t":"1998-03-28","a":8.0,"b":10.0},
{"t":"1998-04-04","a":6.1,"b":7.8},{"t":"1998-04-08","a":4.0,"b":5.2},{"t":"1998-04-12","a":7.0,"b":8.9},{"t":"1998-04-16","a":3.6,"b":4.7},{"t":"1998-04-20","a":5.8,"b":7.4},{"t":"1998-04-24","a":4.4,"b":5.7},{"t":"1998-04-28","a":6.4,"b":8.1},
{"t":"1998-05-04","a":5.0,"b":6.4},{"t":"1998-05-08","a":3.2,"b":4.2},{"t":"1998-05-12","a":6.4,"b":8.1},{"t":"1998-05-16","a":4.0,"b":5.2},{"t":"1998-05-20","a":5.6,"b":7.2},{"t":"1998-05-24","a":2.8,"b":3.7},{"t":"1998-05-28","a":4.3,"b":5.6},
{"t":"1998-06-04","a":3.0,"b":3.9},{"t":"1998-06-08","a":4.8,"b":6.2},{"t":"1998-06-12","a":2.7,"b":3.5},{"t":"1998-06-16","a":5.3,"b":6.8},{"t":"1998-06-20","a":3.6,"b":4.7},{"t":"1998-06-24","a":2.9,"b":3.8},{"t":"1998-06-28","a":5.0,"b":6.4},
{"t":"1998-07-04","a":3.6,"b":4.7},{"t":"1998-07-08","a":2.5,"b":3.3},{"t":"1998-07-12","a":4.4,"b":5.7},{"t":"1998-07-16","a":3.1,"b":4.1},{"t":"1998-07-20","a":4.0,"b":5.2},{"t":"1998-07-24","a":5.2,"b":6.7},{"t":"1998-07-28","a":2.6,"b":3.4},
{"t":"1998-08-04","a":3.1,"b":4.1},{"t":"1998-08-08","a":4.6,"b":6.0},{"t":"1998-08-12","a":2.9,"b":3.8},{"t":"1998-08-16","a":5.8,"b":7.3},{"t":"1998-08-20","a":3.3,"b":4.3},{"t":"1998-08-24","a":4.0,"b":5.2},{"t":"1998-08-28","a":5.6,"b":7.1},
{"t":"1998-09-04","a":4.1,"b":5.3},{"t":"1998-09-08","a":6.3,"b":8.0},{"t":"1998-09-12","a":5.4,"b":6.9},{"t":"1998-09-16","a":7.6,"b":9.6},{"t":"1998-09-20","a":4.9,"b":6.3},{"t":"1998-09-24","a":5.8,"b":7.4},{"t":"1998-09-28","a":7.1,"b":9.0},
{"t":"1998-10-04","a":7.8,"b":9.8},{"t":"1998-10-08","a":5.3,"b":6.9},{"t":"1998-10-12","a":8.9,"b":11.2},{"t":"1998-10-16","a":6.2,"b":7.9},{"t":"1998-10-20","a":9.7,"b":12.1},{"t":"1998-10-24","a":7.4,"b":9.4},{"t":"1998-10-28","a":8.1,"b":10.1},
{"t":"1998-11-04","a":10.8,"b":13.4},{"t":"1998-11-08","a":9.5,"b":11.8},{"t":"1998-11-12","a":12.8,"b":15.7},{"t":"1998-11-16","a":14.2,"b":17.3},{"t":"1998-11-20","a":18.5,"b":22.0},{"t":"1998-11-24","a":13.0,"b":15.9},{"t":"1998-11-28","a":20.1,"b":23.8},
{"t":"1998-12-04","a":17.0,"b":20.3},{"t":"1998-12-08","a":14.6,"b":17.7},{"t":"1998-12-12","a":10.9,"b":13.3},{"t":"1998-12-16","a":19.3,"b":22.8},{"t":"1998-12-20","a":12.6,"b":15.3},{"t":"1998-12-24","a":15.4,"b":18.6},{"t":"1998-12-28","a":17.9,"b":21.3},
{"t":"1999-01-04","a":13.6,"b":16.4},{"t":"1999-01-08","a":9.2,"b":11.4},{"t":"1999-01-12","a":20.8,"b":24.3},{"t":"1999-01-16","a":12.0,"b":14.7},{"t":"1999-01-20","a":16.6,"b":19.9},{"t":"1999-01-24","a":8.7,"b":10.9},{"t":"1999-01-28","a":14.9,"b":18.0},
{"t":"1999-02-04","a":13.0,"b":15.9},{"t":"1999-02-08","a":18.6,"b":21.8},{"t":"1999-02-12","a":10.4,"b":12.8},{"t":"1999-02-16","a":14.3,"b":17.3},{"t":"1999-02-20","a":8.6,"b":10.7},{"t":"1999-02-24","a":11.4,"b":14.0},{"t":"1999-02-28","a":9.0,"b":11.1},
{"t":"1999-03-04","a":8.6,"b":10.6},{"t":"1999-03-08","a":11.9,"b":14.5},{"t":"1999-03-12","a":5.7,"b":7.3},{"t":"1999-03-16","a":9.7,"b":12.0},{"t":"1999-03-20","a":6.4,"b":8.1},{"t":"1999-03-24","a":8.0,"b":10.0},{"t":"1999-03-28","a":4.9,"b":6.3},
{"t":"1999-04-04","a":5.0,"b":6.4},{"t":"1999-04-08","a":7.0,"b":8.8},{"t":"1999-04-12","a":3.9,"b":5.0},{"t":"1999-04-16","a":5.6,"b":7.2},{"t":"1999-04-20","a":4.3,"b":5.6},{"t":"1999-04-24","a":6.0,"b":7.6},{"t":"1999-04-28","a":3.3,"b":4.3},
{"t":"1999-05-04","a":3.6,"b":4.7},{"t":"1999-05-08","a":5.4,"b":6.9},{"t":"1999-05-12","a":2.6,"b":3.4},{"t":"1999-05-16","a":4.4,"b":5.7},{"t":"1999-05-20","a":6.0,"b":7.7},{"t":"1999-05-24","a":3.3,"b":4.3},{"t":"1999-05-28","a":5.6,"b":7.2},
{"t":"1999-06-04","a":3.8,"b":4.9},{"t":"1999-06-08","a":2.4,"b":3.2},{"t":"1999-06-12","a":4.9,"b":6.3},{"t":"1999-06-16","a":3.0,"b":3.9},{"t":"1999-06-20","a":5.1,"b":6.6},{"t":"1999-06-24","a":2.6,"b":3.4},{"t":"1999-06-28","a":4.2,"b":5.5},
{"t":"1999-07-04","a":3.1,"b":4.0},{"t":"1999-07-08","a":4.9,"b":6.3},{"t":"1999-07-12","a":2.6,"b":3.4},{"t":"1999-07-16","a":6.2,"b":7.9},{"t":"1999-07-20","a":3.7,"b":4.8},{"t":"1999-07-24","a":5.1,"b":6.6},{"t":"1999-07-28","a":4.5,"b":5.8},
{"t":"1999-08-04","a":4.2,"b":5.4},{"t":"1999-08-08","a":2.9,"b":3.8},{"t":"1999-08-12","a":5.8,"b":7.4},{"t":"1999-08-16","a":3.5,"b":4.6},{"t":"1999-08-20","a":6.0,"b":7.7},{"t":"1999-08-24","a":4.6,"b":5.9},{"t":"1999-08-28","a":3.3,"b":4.3},
{"t":"1999-09-04","a":4.4,"b":5.7},{"t":"1999-09-08","a":6.9,"b":8.8},{"t":"1999-09-12","a":5.2,"b":6.7},{"t":"1999-09-16","a":7.8,"b":9.8},{"t":"1999-09-20","a":3.9,"b":5.1},{"t":"1999-09-24","a":6.0,"b":7.6},{"t":"1999-09-28","a":8.6,"b":10.8},
{"t":"1999-10-04","a":8.1,"b":10.2},{"t":"1999-10-08","a":5.6,"b":7.2},{"t":"1999-10-12","a":10.9,"b":13.5},{"t":"1999-10-16","a":7.0,"b":8.9},{"t":"1999-10-20","a":13.7,"b":16.8},{"t":"1999-10-24","a":9.4,"b":11.8},{"t":"1999-10-28","a":6.5,"b":8.3},
{"t":"1999-11-04","a":11.0,"b":13.7},{"t":"1999-11-08","a":17.8,"b":21.7},{"t":"1999-11-12","a":14.7,"b":17.9},{"t":"1999-11-16","a":8.6,"b":10.8},{"t":"1999-11-20","a":20.0,"b":24.2},{"t":"1999-11-24","a":13.4,"b":16.4},{"t":"1999-11-28","a":18.2,"b":22.3},
{"t":"1999-12-04","a":14.5,"b":17.7},{"t":"1999-12-08","a":9.7,"b":12.1},{"t":"1999-12-12","a":17.0,"b":20.7},{"t":"1999-12-16","a":12.6,"b":15.4},{"t":"1999-12-20","a":21.3,"b":25.8},{"t":"1999-12-24","a":10.4,"b":12.9},{"t":"1999-12-28","a":16.6,"b":20.2},
{"t":"2000-01-04","a":13.1,"b":16.0},{"t":"2000-01-08","a":21.9,"b":26.4},{"t":"2000-01-12","a":11.2,"b":13.9},{"t":"2000-01-16","a":16.0,"b":19.4},{"t":"2000-01-20","a":8.9,"b":11.1},{"t":"2000-01-24","a":19.3,"b":23.3},{"t":"2000-01-28","a":13.9,"b":17.0},
{"t":"2000-02-04","a":9.7,"b":12.1},{"t":"2000-02-08","a":14.2,"b":17.3},{"t":"2000-02-12","a":6.6,"b":8.4},{"t":"2000-02-16","a":11.9,"b":14.6},{"t":"2000-02-20","a":8.3,"b":10.4},{"t":"2000-02-24","a":12.0,"b":14.7},{"t":"2000-02-28","a":7.0,"b":8.8},
{"t":"2000-03-04","a":6.9,"b":8.7},{"t":"2000-03-08","a":9.9,"b":12.3},{"t":"2000-03-12","a":4.2,"b":5.5},{"t":"2000-03-16","a":8.6,"b":10.7},{"t":"2000-03-20","a":5.8,"b":7.4},{"t":"2000-03-24","a":10.4,"b":12.9},{"t":"2000-03-28","a":5.0,"b":6.4},
{"t":"2000-04-04","a":4.4,"b":5.7},{"t":"2000-04-08","a":6.7,"b":8.5},{"t":"2000-04-12","a":3.4,"b":4.4},{"t":"2000-04-16","a":5.7,"b":7.3},{"t":"2000-04-20","a":2.8,"b":3.7},{"t":"2000-04-24","a":4.9,"b":6.3},{"t":"2000-04-28","a":6.0,"b":7.7},
{"t":"2000-05-04","a":3.6,"b":4.7},{"t":"2000-05-08","a":4.9,"b":6.4},{"t":"2000-05-12","a":2.8,"b":3.7},{"t":"2000-05-16","a":5.3,"b":6.8},{"t":"2000-05-20","a":3.8,"b":4.9},{"t":"2000-05-24","a":4.2,"b":5.5},{"t":"2000-05-28","a":2.5,"b":3.3},
{"t":"2000-06-04","a":3.9,"b":5.1},{"t":"2000-06-08","a":2.5,"b":3.3},{"t":"2000-06-12","a":4.4,"b":5.7},{"t":"2000-06-16","a":3.2,"b":4.2},{"t":"2000-06-20","a":2.6,"b":3.4},{"t":"2000-06-24","a":5.1,"b":6.6},{"t":"2000-06-28","a":3.4,"b":4.4},
{"t":"2000-07-04","a":4.6,"b":5.9},{"t":"2000-07-08","a":3.1,"b":4.0},{"t":"2000-07-12","a":5.2,"b":6.6},{"t":"2000-07-16","a":3.7,"b":4.8},{"t":"2000-07-20","a":4.8,"b":6.2},{"t":"2000-07-24","a":3.3,"b":4.3},{"t":"2000-07-28","a":5.7,"b":7.3},
{"t":"2000-08-04","a":5.3,"b":6.8},{"t":"2000-08-08","a":4.1,"b":5.3},{"t":"2000-08-12","a":6.2,"b":7.9},{"t":"2000-08-16","a":5.0,"b":6.4},{"t":"2000-08-20","a":4.4,"b":5.7},{"t":"2000-08-24","a":7.0,"b":8.9},{"t":"2000-08-28","a":4.6,"b":5.9},
{"t":"2000-09-04","a":5.8,"b":7.4},{"t":"2000-09-08","a":7.4,"b":9.4},{"t":"2000-09-12","a":5.1,"b":6.6},{"t":"2000-09-16","a":6.4,"b":8.2},{"t":"2000-09-20","a":7.8,"b":9.8},{"t":"2000-09-24","a":5.9,"b":7.5},{"t":"2000-09-28","a":7.0,"b":8.9},
{"t":"2000-10-04","a":8.9,"b":11.1},{"t":"2000-10-08","a":6.7,"b":8.5},{"t":"2000-10-12","a":11.4,"b":14.1},{"t":"2000-10-16","a":9.6,"b":12.0},{"t":"2000-10-20","a":13.2,"b":16.3},{"t":"2000-10-24","a":10.9,"b":13.6},{"t":"2000-10-28","a":12.7,"b":15.7},
{"t":"2000-11-04","a":12.5,"b":15.4},{"t":"2000-11-08","a":9.3,"b":11.6},{"t":"2000-11-12","a":15.0,"b":18.3},{"t":"2000-11-16","a":11.1,"b":13.8},{"t":"2000-11-20","a":13.8,"b":17.0},{"t":"2000-11-24","a":8.9,"b":11.2},{"t":"2000-11-28","a":14.6,"b":17.9},
{"t":"2000-12-04","a":11.9,"b":14.7},{"t":"2000-12-08","a":14.1,"b":17.4},{"t":"2000-12-12","a":10.4,"b":12.9},{"t":"2000-12-16","a":7.3,"b":9.2},{"t":"2000-12-20","a":13.4,"b":16.5},{"t":"2000-12-24","a":11.0,"b":13.6},{"t":"2000-12-28","a":15.1,"b":18.4},
{"t":"2001-01-04","a":13.6,"b":16.7},{"t":"2001-01-08","a":10.4,"b":12.9},{"t":"2001-01-12","a":17.0,"b":20.5},{"t":"2001-01-16","a":12.0,"b":14.8},{"t":"2001-01-20","a":14.9,"b":18.2},{"t":"2001-01-24","a":11.1,"b":13.7},{"t":"2001-01-28","a":16.6,"b":20.1},
{"t":"2001-02-04","a":11.4,"b":14.1},{"t":"2001-02-08","a":15.0,"b":18.2},{"t":"2001-02-12","a":9.1,"b":11.3},{"t":"2001-02-16","a":13.4,"b":16.4},{"t":"2001-02-20","a":6.2,"b":7.9},{"t":"2001-02-24","a":10.0,"b":12.4},{"t":"2001-02-28","a":5.3,"b":6.7},
{"t":"2001-03-04","a":7.6,"b":9.5},{"t":"2001-03-08","a":9.9,"b":12.3},{"t":"2001-03-12","a":4.6,"b":5.9},{"t":"2001-03-16","a":8.4,"b":10.5},{"t":"2001-03-20","a":6.0,"b":7.6},{"t":"2001-03-24","a":3.4,"b":4.4},{"t":"2001-03-28","a":5.4,"b":6.9},
{"t":"2001-04-04","a":5.7,"b":7.3},{"t":"2001-04-08","a":3.5,"b":4.5},{"t":"2001-04-12","a":6.3,"b":8.0},{"t":"2001-04-16","a":4.6,"b":5.9},{"t":"2001-04-20","a":3.1,"b":4.1},{"t":"2001-04-24","a":5.3,"b":6.8},{"t":"2001-04-28","a":3.9,"b":5.0},
{"t":"2001-05-04","a":4.1,"b":5.3},{"t":"2001-05-08","a":2.6,"b":3.4},{"t":"2001-05-12","a":5.9,"b":7.5},{"t":"2001-05-16","a":3.9,"b":5.0},{"t":"2001-05-20","a":2.2,"b":2.9},{"t":"2001-05-24","a":4.9,"b":6.2},{"t":"2001-05-28","a":3.0,"b":3.9},
{"t":"2001-06-04","a":3.3,"b":4.3},{"t":"2001-06-08","a":5.2,"b":6.6},{"t":"2001-06-12","a":2.5,"b":3.2},{"t":"2001-06-16","a":4.7,"b":6.0},{"t":"2001-06-20","a":3.5,"b":4.5},{"t":"2001-06-24","a":2.0,"b":2.6},{"t":"2001-06-28","a":5.6,"b":7.1},
{"t":"2001-07-04","a":4.0,"b":5.1},{"t":"2001-07-08","a":2.4,"b":3.1},{"t":"2001-07-12","a":4.9,"b":6.3},{"t":"2001-07-16","a":3.0,"b":3.9},{"t":"2001-07-20","a":2.2,"b":2.9},{"t":"2001-07-24","a":4.6,"b":5.9},{"t":"2001-07-28","a":3.4,"b":4.4},
{"t":"2001-08-04","a":3.0,"b":3.9},{"t":"2001-08-08","a":4.2,"b":5.4},{"t":"2001-08-12","a":2.6,"b":3.4}
],
"pan": [
{"t":"1995-05-10","p":0.12},{"t":"1995-05-14","p":0.28},{"t":"1995-05-18","p":0.45},{"t":"1995-05-22","p":0.23},{"t":"1995-05-26","p":0.38},{"t":"1995-05-30","p":0.13},
{"t":"1995-06-02","p":0.42},{"t":"1995-06-06","p":0.22},{"t":"1995-06-10","p":0.48},{"t":"1995-06-14","p":0.70},{"t":"1995-06-18","p":0.15},{"t":"1995-06-22","p":0.36},{"t":"1995-06-26","p":0.25},{"t":"1995-06-30","p":0.54},
{"t":"1995-07-02","p":0.66},{"t":"1995-07-06","p":0.41},{"t":"1995-07-10","p":0.08},{"t":"1995-07-14","p":0.57},{"t":"1995-07-18","p":0.31},{"t":"1995-07-22","p":0.60},{"t":"1995-07-26","p":0.19},{"t":"1995-07-30","p":0.46},
{"t":"1995-08-02","p":0.27},{"t":"1995-08-06","p":0.50},{"t":"1995-08-10","p":0.16},{"t":"1995-08-14","p":0.38},{"t":"1995-08-18","p":0.22},{"t":"1995-08-22","p":0.55},{"t":"1995-08-26","p":0.20},{"t":"1995-08-30","p":0.29},
{"t":"1995-09-02","p":0.13},{"t":"1995-09-06","p":0.21},{"t":"1995-09-10","p":0.00},{"t":"1995-09-14","p":0.18},{"t":"1995-09-18","p":0.10},{"t":"1995-09-22","p":0.26},{"t":"1995-09-26","p":0.06},{"t":"1995-09-30","p":0.14},
{"t":"1995-10-02","p":0.32},{"t":"1995-10-06","p":0.11},{"t":"1995-10-10","p":0.22},{"t":"1995-10-14","p":0.05},{"t":"1995-10-18","p":0.17},{"t":"1995-10-22","p":0.09},{"t":"1995-10-26","p":0.14},{"t":"1995-10-30","p":0.03},
{"t":"1995-11-02","p":0.07},{"t":"1995-11-06","p":0.12},{"t":"1995-11-10","p":0.04},{"t":"1995-11-14","p":0.18},{"t":"1995-11-18","p":0.06},{"t":"1995-11-22","p":0.10},{"t":"1995-11-26","p":0.02},{"t":"1995-11-30","p":0.08},
{"t":"1995-12-02","p":0.05},{"t":"1995-12-06","p":0.20},{"t":"1995-12-10","p":0.03},{"t":"1995-12-14","p":0.09},{"t":"1995-12-18","p":0.01},{"t":"1995-12-22","p":0.12},{"t":"1995-12-26","p":0.04},{"t":"1995-12-30","p":0.07},
{"t":"1996-01-02","p":0.02},{"t":"1996-01-06","p":0.10},{"t":"1996-01-10","p":0.06},{"t":"1996-01-14","p":0.15},{"t":"1996-01-18","p":0.04},{"t":"1996-01-22","p":0.25},{"t":"1996-01-26","p":0.12},{"t":"1996-01-30","p":0.33},
{"t":"1996-02-02","p":0.18},{"t":"1996-02-06","p":0.44},{"t":"1996-02-10","p":0.76},{"t":"1996-02-14","p":0.00},{"t":"1996-02-18","p":0.30},{"t":"1996-02-22","p":0.22},{"t":"1996-02-26","p":0.45},
{"t":"1996-03-02","p":0.63},{"t":"1996-03-06","p":0.34},{"t":"1996-03-10","p":0.81},{"t":"1996-03-14","p":0.92},{"t":"1996-03-18","p":0.28},{"t":"1996-03-22","p":0.79},{"t":"1996-03-26","p":0.20},{"t":"1996-03-30","p":0.55},
{"t":"1996-04-02","p":0.14},{"t":"1996-04-06","p":0.40},{"t":"1996-04-10","p":0.23},{"t":"1996-04-14","p":0.52},{"t":"1996-04-18","p":0.09},{"t":"1996-04-22","p":0.33},{"t":"1996-04-26","p":0.18},{"t":"1996-04-30","p":0.47},
{"t":"1996-05-02","p":0.26},{"t":"1996-05-06","p":0.12},{"t":"1996-05-10","p":0.37},{"t":"1996-05-14","p":0.21},{"t":"1996-05-18","p":0.50},{"t":"1996-05-22","p":0.04},{"t":"1996-05-26","p":0.63},{"t":"1996-05-30","p":0.30},
{"t":"1996-06-02","p":0.45},{"t":"1996-06-06","p":0.73},{"t":"1996-06-10","p":0.24},{"t":"1996-06-14","p":0.59},{"t":"1996-06-18","p":0.73},{"t":"1996-06-22","p":0.38},{"t":"1996-06-26","p":0.16},{"t":"1996-06-30","p":0.47},
{"t":"1996-07-02","p":0.32},{"t":"1996-07-06","p":0.55},{"t":"1996-07-10","p":0.13},{"t":"1996-07-14","p":0.42},{"t":"1996-07-18","p":0.25},{"t":"1996-07-22","p":0.48},{"t":"1996-07-26","p":0.20},{"t":"1996-07-30","p":0.35},
{"t":"1996-08-02","p":0.18},{"t":"1996-08-06","p":0.44},{"t":"1996-08-10","p":0.10},{"t":"1996-08-14","p":0.30},{"t":"1996-08-18","p":0.38},{"t":"1996-08-22","p":0.12},{"t":"1996-08-26","p":0.27},{"t":"1996-08-30","p":0.33},
{"t":"1996-09-02","p":0.22},{"t":"1996-09-06","p":0.09},{"t":"1996-09-10","p":0.31},{"t":"1996-09-14","p":0.14},{"t":"1996-09-18","p":0.25},{"t":"1996-09-22","p":0.05},{"t":"1996-09-26","p":0.18},{"t":"1996-09-30","p":0.10},
{"t":"1996-10-02","p":0.08},{"t":"1996-10-06","p":0.28},{"t":"1996-10-10","p":0.12},{"t":"1996-10-14","p":0.05},{"t":"1996-10-18","p":0.20},{"t":"1996-10-22","p":0.03},{"t":"1996-10-26","p":0.11},{"t":"1996-10-30","p":0.06},
{"t":"1996-11-02","p":0.04},{"t":"1996-11-06","p":0.13},{"t":"1996-11-10","p":0.02},{"t":"1996-11-14","p":0.09},{"t":"1996-11-18","p":0.05},{"t":"1996-11-22","p":0.11},{"t":"1996-11-26","p":0.01},{"t":"1996-11-30","p":0.07},
{"t":"1996-12-02","p":0.03},{"t":"1996-12-06","p":0.08},{"t":"1996-12-10","p":0.01},{"t":"1996-12-14","p":0.05},{"t":"1996-12-18","p":0.02},
{"t":"1995-05-12","p":0.35},{"t":"1995-05-16","p":0.18},{"t":"1995-05-20","p":0.40},{"t":"1995-05-24","p":0.10},{"t":"1995-05-28","p":0.30},
{"t":"1995-06-04","p":0.27},{"t":"1995-06-08","p":0.38},{"t":"1995-06-12","p":0.18},{"t":"1995-06-16","p":0.45},{"t":"1995-06-20","p":0.60},{"t":"1995-06-24","p":0.20},{"t":"1995-06-28","p":0.42},
{"t":"1995-07-04","p":0.50},{"t":"1995-07-08","p":0.24},{"t":"1995-07-12","p":0.36},{"t":"1995-07-16","p":0.52},{"t":"1995-07-20","p":0.14},{"t":"1995-07-24","p":0.40},{"t":"1995-07-28","p":0.28},
{"t":"1995-08-04","p":0.35},{"t":"1995-08-08","p":0.18},{"t":"1995-08-12","p":0.44},{"t":"1995-08-16","p":0.24},{"t":"1995-08-20","p":0.31},{"t":"1995-08-24","p":0.15},{"t":"1995-08-28","p":0.25},
{"t":"1995-09-04","p":0.17},{"t":"1995-09-08","p":0.09},{"t":"1995-09-12","p":0.24},{"t":"1995-09-16","p":0.12},{"t":"1995-09-20","p":0.20},{"t":"1995-09-24","p":0.08},{"t":"1995-09-28","p":0.16},
{"t":"1995-10-04","p":0.19},{"t":"1995-10-08","p":0.08},{"t":"1995-10-12","p":0.15},{"t":"1995-10-16","p":0.12},{"t":"1995-10-20","p":0.06},{"t":"1995-10-24","p":0.20},{"t":"1995-10-28","p":0.10},
{"t":"1995-11-04","p":0.10},{"t":"1995-11-08","p":0.05},{"t":"1995-11-12","p":0.14},{"t":"1995-11-16","p":0.03},{"t":"1995-11-20","p":0.09},{"t":"1995-11-24","p":0.13},{"t":"1995-11-28","p":0.05},
{"t":"1995-12-04","p":0.11},{"t":"1995-12-08","p":0.06},{"t":"1995-12-12","p":0.15},{"t":"1995-12-16","p":0.04},{"t":"1995-12-20","p":0.08},{"t":"1995-12-24","p":0.02},{"t":"1995-12-28","p":0.10},
{"t":"1996-01-04","p":0.08},{"t":"1996-01-08","p":0.03},{"t":"1996-01-12","p":0.12},{"t":"1996-01-16","p":0.09},{"t":"1996-01-20","p":0.18},{"t":"1996-01-24","p":0.07},{"t":"1996-01-28","p":0.22},
{"t":"1996-02-04","p":0.28},{"t":"1996-02-08","p":0.12},{"t":"1996-02-12","p":0.38},{"t":"1996-02-16","p":0.16},{"t":"1996-02-20","p":0.42},{"t":"1996-02-24","p":0.26},{"t":"1996-02-28","p":0.35},
{"t":"1996-03-04","p":0.45},{"t":"1996-03-08","p":0.60},{"t":"1996-03-12","p":0.25},{"t":"1996-03-16","p":0.76},{"t":"1996-03-20","p":0.38},{"t":"1996-03-24","p":0.58},{"t":"1996-03-28","p":0.30},
{"t":"1996-04-04","p":0.30},{"t":"1996-04-08","p":0.19},{"t":"1996-04-12","p":0.44},{"t":"1996-04-16","p":0.27},{"t":"1996-04-20","p":0.12},{"t":"1996-04-24","p":0.38},{"t":"1996-04-28","p":0.25},
{"t":"1996-05-04","p":0.18},{"t":"1996-05-08","p":0.42},{"t":"1996-05-12","p":0.28},{"t":"1996-05-16","p":0.15},{"t":"1996-05-20","p":0.36},{"t":"1996-05-24","p":0.22},{"t":"1996-05-28","p":0.45},
{"t":"1996-06-04","p":0.30},{"t":"1996-06-08","p":0.52},{"t":"1996-06-12","p":0.40},{"t":"1996-06-16","p":0.28},{"t":"1996-06-20","p":0.55},{"t":"1996-06-24","p":0.33},{"t":"1996-06-28","p":0.41},
{"t":"1996-07-04","p":0.44},{"t":"1996-07-08","p":0.20},{"t":"1996-07-12","p":0.37},{"t":"1996-07-16","p":0.29},{"t":"1996-07-20","p":0.40},{"t":"1996-07-24","p":0.16},{"t":"1996-07-28","p":0.30},
{"t":"1996-08-04","p":0.26},{"t":"1996-08-08","p":0.35},{"t":"1996-08-12","p":0.20},{"t":"1996-08-16","p":0.40},{"t":"1996-08-20","p":0.22},{"t":"1996-08-24","p":0.30},{"t":"1996-08-28","p":0.16},
{"t":"1996-09-04","p":0.15},{"t":"1996-09-08","p":0.27},{"t":"1996-09-12","p":0.12},{"t":"1996-09-16","p":0.20},{"t":"1996-09-20","p":0.10},{"t":"1996-09-24","p":0.24},{"t":"1996-09-28","p":0.07},
{"t":"1996-10-04","p":0.13},{"t":"1996-10-08","p":0.06},{"t":"1996-10-12","p":0.16},{"t":"1996-10-16","p":0.09},{"t":"1996-10-20","p":0.04},{"t":"1996-10-24","p":0.12},{"t":"1996-10-28","p":0.08},
{"t":"1996-11-04","p":0.09},{"t":"1996-11-08","p":0.03},{"t":"1996-11-12","p":0.07},{"t":"1996-11-16","p":0.12},{"t":"1996-11-20","p":0.04},{"t":"1996-11-24","p":0.06},{"t":"1996-11-28","p":0.10},
{"t":"1996-12-04","p":0.06},{"t":"1996-12-08","p":0.03},{"t":"1996-12-12","p":0.07},{"t":"1996-12-16","p":0.04}
],
"labs": [
{"t":"1994-11-18","va":42.1,"vb":42.2,"vc":0.851,"la":"a)","lb":"b)","lc":"c)"}
]
},
"vconcat": [
{
 "width": 562, "height": 295,
 "layer": [
  {"data": {"name": "no2"},
   "mark": {"type": "line", "color": "black", "strokeWidth": 0.7},
   "encoding": {
    "x": {"field": "t", "type": "temporal", "scale": {"type": "utc", "domain": [{"year": 1994, "month": 9, "date": 30, "utc": true}, {"year": 2001, "month": 11, "date": 16, "utc": true}]},
      "axis": {"orient": "bottom", "values": [{"year":1995,"month":1,"date":1,"utc":true},{"year":1996,"month":1,"date":1,"utc":true},{"year":1997,"month":1,"date":1,"utc":true},{"year":1998,"month":1,"date":1,"utc":true},{"year":1999,"month":1,"date":1,"utc":true},{"year":2000,"month":1,"date":1,"utc":true},{"year":2001,"month":1,"date":1,"utc":true}],
        "labelExpr": "utcyear(datum.value) % 2 == 1 ? utcFormat(datum.value, '%Y/%m') : ''", "labelBaseline": "alphabetic", "labelPadding": 32, "title": "date (yyyy/mm)", "titleBaseline": "alphabetic", "titleY": 63, "titleX": 282}},
    "y": {"field": "a", "type": "quantitative", "scale": {"domain": [-1.7, 46.7], "nice": false, "zero": false},
      "axis": {"orient": "left", "values": [0, 10, 20, 30, 40], "labelAngle": -90, "labelAlign": "center", "labelBaseline": "alphabetic", "labelPadding": 13, "title": "NO₂ [ppb]", "titleAngle": -90, "titleAlign": "center", "titleBaseline": "alphabetic", "titleX": -48, "titleY": 147.5}}
   }},
  {"data": {"name": "no2"},
   "mark": {"type": "circle", "color": "black", "size": 20, "opacity": 1},
   "encoding": {
    "x": {"field": "t", "type": "temporal", "scale": {"type": "utc", "domain": [{"year": 1994, "month": 9, "date": 30, "utc": true}, {"year": 2001, "month": 11, "date": 16, "utc": true}]},
      "axis": {"orient": "top", "labels": false, "ticks": false, "title": null, "domain": true}},
    "y": {"field": "a", "type": "quantitative", "scale": {"domain": [-1.7, 46.7], "nice": false, "zero": false}, "axis": null}
   }},
  {"data": {"name": "labs"},
   "mark": {"type": "text", "align": "left", "baseline": "alphabetic", "fontSize": 20, "font": "Liberation Sans", "color": "black"},
   "encoding": {
    "x": {"field": "t", "type": "temporal", "scale": {"type": "utc", "domain": [{"year": 1994, "month": 9, "date": 30, "utc": true}, {"year": 2001, "month": 11, "date": 16, "utc": true}]}, "axis": null},
    "y": {"field": "va", "type": "quantitative", "scale": {"domain": [-1.7, 46.7], "nice": false, "zero": false}, "axis": null},
    "text": {"field": "la"}
   }}
 ],
 "resolve": {"axis": {"x": "independent", "y": "independent"}}
},
{
 "width": 562, "height": 296,
 "layer": [
  {"data": {"name": "no2"},
   "mark": {"type": "line", "color": "black", "strokeWidth": 0.7},
   "encoding": {
    "x": {"field": "t", "type": "temporal", "scale": {"type": "utc", "domain": [{"year": 1994, "month": 9, "date": 30, "utc": true}, {"year": 2001, "month": 11, "date": 16, "utc": true}]},
      "axis": {"orient": "bottom", "domainColor": "#666", "values": [{"year":1995,"month":1,"date":1,"utc":true},{"year":1996,"month":1,"date":1,"utc":true},{"year":1997,"month":1,"date":1,"utc":true},{"year":1998,"month":1,"date":1,"utc":true},{"year":1999,"month":1,"date":1,"utc":true},{"year":2000,"month":1,"date":1,"utc":true},{"year":2001,"month":1,"date":1,"utc":true}],
        "labelExpr": "utcyear(datum.value) % 2 == 1 ? utcFormat(datum.value, '%Y/%m') : ''", "labelBaseline": "alphabetic", "labelPadding": 32, "title": "date (yyyy/mm)", "titleBaseline": "alphabetic", "titleY": 63, "titleX": 282}},
    "y": {"field": "b", "type": "quantitative", "scale": {"domain": [-1.8, 46.8], "nice": false, "zero": false},
      "axis": {"orient": "left", "domainColor": "#666", "values": [0, 10, 20, 30, 40], "labelAngle": -90, "labelAlign": "center", "labelBaseline": "alphabetic", "labelPadding": 13, "title": "(NO₂)ₘ [ppb]", "titleAngle": -90, "titleAlign": "center", "titleBaseline": "alphabetic", "titleX": -48, "titleY": 148}}
   }},
  {"data": {"name": "no2"},
   "mark": {"type": "circle", "color": "black", "size": 20, "opacity": 1},
   "encoding": {
    "x": {"field": "t", "type": "temporal", "scale": {"type": "utc", "domain": [{"year": 1994, "month": 9, "date": 30, "utc": true}, {"year": 2001, "month": 11, "date": 16, "utc": true}]},
      "axis": {"orient": "top", "labels": false, "ticks": false, "title": null, "domain": true, "domainColor": "#666"}},
    "y": {"field": "b", "type": "quantitative", "scale": {"domain": [-1.8, 46.8], "nice": false, "zero": false}, "axis": null}
   }},
  {"data": {"name": "labs"},
   "mark": {"type": "text", "align": "left", "baseline": "alphabetic", "fontSize": 20, "font": "Liberation Sans", "color": "black"},
   "encoding": {
    "x": {"field": "t", "type": "temporal", "scale": {"type": "utc", "domain": [{"year": 1994, "month": 9, "date": 30, "utc": true}, {"year": 2001, "month": 11, "date": 16, "utc": true}]}, "axis": null},
    "y": {"field": "vb", "type": "quantitative", "scale": {"domain": [-1.8, 46.8], "nice": false, "zero": false}, "axis": null},
    "text": {"field": "lb"}
   }}
 ],
 "resolve": {"axis": {"x": "independent", "y": "independent"}}
},
{
 "width": 562, "height": 295,
 "layer": [
  {"data": {"name": "pan"},
   "mark": {"type": "line", "color": "black", "strokeWidth": 0.7},
   "encoding": {
    "x": {"field": "t", "type": "temporal", "scale": {"type": "utc", "domain": [{"year": 1994, "month": 9, "date": 30, "utc": true}, {"year": 2001, "month": 11, "date": 16, "utc": true}]},
      "axis": {"orient": "bottom", "values": [{"year":1995,"month":1,"date":1,"utc":true},{"year":1996,"month":1,"date":1,"utc":true},{"year":1997,"month":1,"date":1,"utc":true},{"year":1998,"month":1,"date":1,"utc":true},{"year":1999,"month":1,"date":1,"utc":true},{"year":2000,"month":1,"date":1,"utc":true},{"year":2001,"month":1,"date":1,"utc":true}],
        "labelExpr": "utcyear(datum.value) % 2 == 1 ? utcFormat(datum.value, '%Y/%m') : ''", "labelBaseline": "alphabetic", "labelPadding": 32, "title": "date (yyyy/mm)", "titleBaseline": "alphabetic", "titleY": 63, "titleX": 282}},
    "y": {"field": "p", "type": "quantitative", "scale": {"domain": [-0.033, 0.937], "nice": false, "zero": false},
      "axis": {"orient": "left", "values": [0, 0.2, 0.4, 0.6, 0.8], "format": ".1f", "labelAngle": -90, "labelAlign": "center", "labelBaseline": "alphabetic", "labelPadding": 13, "title": "PAN [ppb]", "titleAngle": -90, "titleAlign": "center", "titleBaseline": "alphabetic", "titleX": -48, "titleY": 147.5}}
   }},
  {"data": {"name": "pan"},
   "mark": {"type": "circle", "color": "black", "size": 20, "opacity": 1},
   "encoding": {
    "x": {"field": "t", "type": "temporal", "scale": {"type": "utc", "domain": [{"year": 1994, "month": 9, "date": 30, "utc": true}, {"year": 2001, "month": 11, "date": 16, "utc": true}]},
      "axis": {"orient": "top", "labels": false, "ticks": false, "title": null, "domain": true}},
    "y": {"field": "p", "type": "quantitative", "scale": {"domain": [-0.033, 0.937], "nice": false, "zero": false}, "axis": null}
   }},
  {"data": {"name": "labs"},
   "mark": {"type": "text", "align": "left", "baseline": "alphabetic", "fontSize": 20, "font": "Liberation Sans", "color": "black"},
   "encoding": {
    "x": {"field": "t", "type": "temporal", "scale": {"type": "utc", "domain": [{"year": 1994, "month": 9, "date": 30, "utc": true}, {"year": 2001, "month": 11, "date": 16, "utc": true}]}, "axis": null},
    "y": {"field": "vc", "type": "quantitative", "scale": {"domain": [-0.033, 0.937], "nice": false, "zero": false}, "axis": null},
    "text": {"field": "lc"}
   }}
 ],
 "resolve": {"axis": {"x": "independent", "y": "independent"}}
}
]
}
